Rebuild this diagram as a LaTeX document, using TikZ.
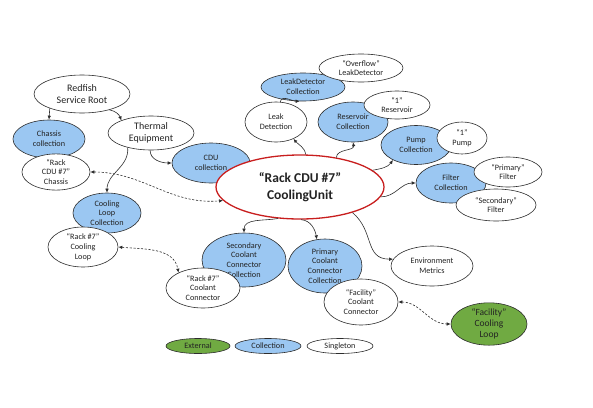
\documentclass[tikz,border=0pt]{standalone}
\usepackage{fontspec}
\setmainfont{Carlito}
\usetikzlibrary{shapes.geometric,arrows.meta}
\definecolor{collblue}{RGB}{155,199,242}
\definecolor{extgreen}{RGB}{112,170,66}
\definecolor{cured}{RGB}{200,30,30}
\definecolor{txt}{RGB}{35,35,35}
\definecolor{edgec}{RGB}{45,45,45}
\begin{document}
\begin{tikzpicture}[x=1pt,y=-1pt,
  nd/.style={ellipse,draw=edgec,line width=0.6pt,inner sep=0pt,align=center,text=txt,font=\fontsize{8.2}{9.8}\selectfont},
  coll/.style={nd,fill=collblue},
  sing/.style={nd,fill=white},
  ext/.style={nd,fill=extgreen},
  big/.style={font=\fontsize{10}{12}\selectfont},
  arr/.style={draw=edgec,line width=0.6pt,-{Latex[length=4pt,width=3.5pt]}},
  darr/.style={draw=edgec,line width=0.6pt,dash pattern=on 2.2pt off 1.6pt,{Latex[length=4pt,width=3.5pt]}-{Latex[length=4pt,width=3.5pt]}},
  sz/.style n args={2}{minimum width=#1pt,minimum height=#2pt}]
\useasboundingbox (0,0) rectangle (593,407);
% collections
\node[coll,sz={72}{38}] (chcoll) at (49,139) {Chassis\\collection};
\node[coll,sz={78}{40}] (cducoll) at (211,163) {CDU\\collection};
\node[coll,sz={68}{40}] (clcoll) at (107,213) {Cooling\\Loop\\Collection};
\node[coll,sz={84}{54}] (scc) at (244,260) {Secondary\\Coolant\\Connector\\Collection};
\node[coll,sz={74}{54}] (pcc) at (325,266) {Primary\\Coolant\\Connector\\Collection};
\node[coll,sz={84}{28}] (ldcoll) at (303,87) {LeakDetector\\Collection};
\node[coll,sz={70}{40}] (rescoll) at (353,122) {Reservoir\\Collection};
\node[coll,sz={70}{39}] (pumpcoll) at (416,145) {Pump\\Collection};
\node[coll,sz={70}{40}] (filtcoll) at (451,183) {Filter\\Collection};
% singletons
\node[sing,big,sz={96}{38}] (redfish) at (82,94) {Redfish\\Service Root};
\node[sing,big,sz={86}{34}] (thermal) at (151,133) {Thermal\\Equipment};
\node[sing,sz={68}{36}] (rchassis) at (56,172) {“Rack\\CDU \#7”\\Chassis};
\node[sing,sz={84}{28}] (overflow) at (361,68) {“Overflow”\\LeakDetector};
\node[sing,sz={62}{40}] (leakdet) at (276,122) {Leak\\Detection};
\node[sing,sz={66}{28}] (res1) at (397,105) {“1”\\Reservoir};
\node[sing,sz={50}{32}] (pump1) at (462,138) {“1”\\Pump};
\node[sing,sz={68}{30}] (primf) at (508,172) {“Primary”\\Filter};
\node[sing,sz={80}{32}] (secf) at (496,205) {“Secondary”\\Filter};
\node[sing,sz={82}{40}] (envm) at (432,266) {Environment\\Metrics};
\node[sing,sz={70}{40}] (rcloop) at (83,247) {“Rack \#7”\\Cooling\\Loop};
\node[sing,sz={74}{40}] (rcconn) at (203,288) {“Rack \#7”\\Coolant\\Connector};
\node[sing,sz={74}{46}] (fconn) at (361,302) {“Facility”\\Coolant\\Connector};
\node[ext,sz={76}{34},font=\fontsize{9.5}{10.8}\selectfont] (fcloop) at (489,324) {“Facility”\\Cooling\\Loop};
% main
\node[sing,sz={168}{64},draw=cured,line width=1.3pt,font=\fontsize{13.5}{16.5}\selectfont\bfseries] (cu) at (300,187) {“Rack CDU \#7”\\CoolingUnit};
% legend
\node[ext,sz={64}{15}] (lgext) at (198,346) {External};
\node[coll,sz={66}{15}] (lgcoll) at (268,346) {Collection};
\node[sing,sz={66}{15}] (lgsing) at (340,346) {Singleton};
% connectors
\draw[arr] (redfish.204) -- (chcoll.north);
\draw[arr] (redfish.330) to[out=-10,in=110] (thermal.157);
\draw[arr] (thermal.267) to[out=-90,in=180] (cducoll.west);
\draw[arr] (thermal.212) to[out=-85,in=90] (clcoll.north);
\draw[darr] (rchassis.east) to[out=0,in=185] (cu.190);
\draw[arr] (cu.80) to[out=100,in=-50] (leakdet.316);
\draw[arr] (leakdet.78) to[out=80,in=180] (ldcoll.257);
\draw[arr] (cu.39) to[out=90,in=-80] (rescoll.south);
\draw[arr] (cu.13) to[out=10,in=235] (pumpcoll.213);
\draw[arr] (cu.353) to[out=0,in=180] (filtcoll.west);
\draw[arr] (cu.334) to[out=-40,in=180,looseness=1.2] (envm.170);
\draw[arr] (cu.272) to[out=-5,in=100] (pcc.107);
\draw[arr] (cu.235) to[out=190,in=90] (scc.north);
\draw[darr] (rcloop.east) to[out=-5,in=100] (rcconn.148);
\draw[darr] (fconn.east) to[out=0,in=180] (fcloop.west);
\end{tikzpicture}
\end{document}
